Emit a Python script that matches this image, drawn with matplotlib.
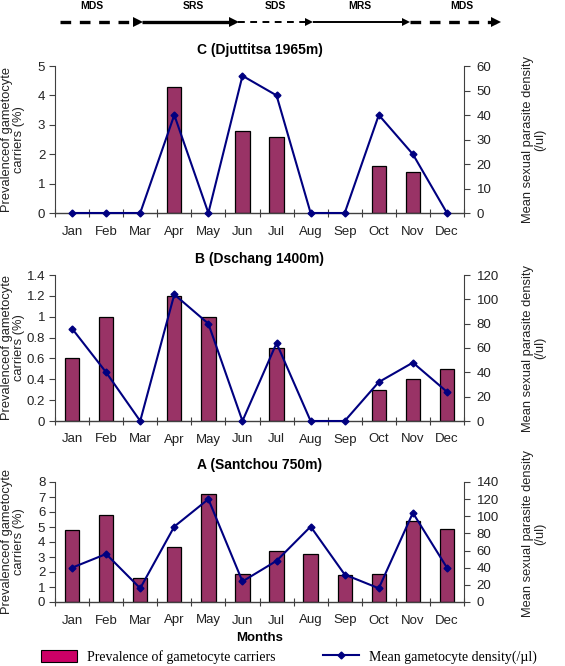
import numpy as np
import matplotlib
matplotlib.use('Agg')
import matplotlib.pyplot as plt
from matplotlib.lines import Line2D
from matplotlib.patches import Patch

plt.rcParams['font.family'] = ['Liberation Sans', 'DejaVu Sans']

months = ['Jan', 'Feb', 'Mar', 'Apr', 'May', 'Jun',
          'Jul', 'Aug', 'Sep', 'Oct', 'Nov', 'Dec']

# C (Djuttitsa 1965m)
prev_c = [0, 0, 0, 4.3, 0, 2.8, 2.6, 0, 0, 1.6, 1.4, 0]
dens_c = [0, 0, 0, 40, 0, 56, 48, 0, 0, 40, 24, 0]
# B (Dschang 1400m)
prev_b = [0.6, 1.0, 0, 1.2, 1.0, 0, 0.7, 0, 0, 0.3, 0.4, 0.5]
dens_b = [76, 40, 0, 104, 80, 0, 64, 0, 0, 32, 48, 24]
# A (Santchou 750m)
prev_a = [4.8, 5.8, 1.6, 3.7, 7.2, 1.9, 3.4, 3.2, 1.8, 1.9, 5.4, 4.9]
dens_a = [40, 56, 16, 88, 120, 24, 48, 88, 32, 16, 104, 40]

seasons = ['MDS', 'SRS', 'SDS', 'MRS', 'MDS']

BAR = '#993366'
LINE = '#000080'
AXC = '#404040'
TXT = '#222222'

W, H = 565, 666
fig = plt.figure(figsize=(W / 100, H / 100), dpi=100)

L = 55 / W
AW = (464 - 55) / W


def panel(rect, title, prev, dens, ymax, ystep, y2max, y2step, r_label_y=0.5):
    ax = fig.add_axes(rect)
    x = np.arange(len(months))
    prev = np.array(prev, dtype=float)
    keep = prev > 0
    ax.bar(x[keep], prev[keep], width=0.42, color=BAR,
           edgecolor='black', linewidth=0.9, zorder=2)
    ax.set_xlim(-0.5, 11.5)
    ax.set_ylim(0, ymax)
    yt = np.arange(0, ymax + ystep / 2, ystep)
    ax.set_yticks(yt)
    ax.set_yticklabels(['%g' % round(v, 1) for v in yt])
    ax.set_xticks(x)
    ax.set_xticklabels(months)
    ax.set_xticks(np.arange(-0.5, 12, 1), minor=True)
    ax.tick_params(axis='x', which='major', length=0, pad=9,
                   labelsize=9.5, labelcolor=TXT)
    ax.tick_params(axis='x', which='minor', direction='inout', length=6,
                   color=AXC, width=0.8)
    ax.tick_params(axis='y', direction='out', length=4, color=AXC,
                   labelsize=9.5, labelcolor=TXT, width=0.8, pad=3)
    for s in ['top', 'right']:
        ax.spines[s].set_visible(False)
    ax.spines['left'].set_color(AXC)
    ax.spines['bottom'].set_color(AXC)
    ax.spines['left'].set_linewidth(0.8)
    ax.spines['bottom'].set_linewidth(1.0)
    ax.set_ylabel('Prevalenceof gametocyte\ncarriers (%)', fontsize=9.3,
                  color=TXT, linespacing=1.0, va='center')
    ax.yaxis.set_label_coords((13 - 55) / (AW * W), 0.5)
    ax.set_title(title, fontsize=10, fontweight='bold', pad=9)

    ax2 = ax.twinx()
    ax2.plot(x, dens, color=LINE, lw=1.5, marker='D', markersize=3.5,
             zorder=3, clip_on=False)
    ax2.set_ylim(0, y2max)
    ax2.set_yticks(np.arange(0, y2max + 1, y2step))
    ax2.tick_params(axis='y', direction='out', length=4, color=AXC,
                    labelsize=9.5, labelcolor=TXT, width=0.8, pad=5)
    for s in ['top', 'left', 'bottom']:
        ax2.spines[s].set_visible(False)
    ax2.spines['right'].set_color(AXC)
    ax2.spines['right'].set_linewidth(0.8)
    ax2.set_ylabel('Mean sexual parasite density\n(/ul)', fontsize=9.3,
                   color=TXT, linespacing=1.0, va='center')
    ax2.yaxis.set_label_coords((534 - 55) / (AW * W), r_label_y)
    return ax


def fy(top, bottom):
    return [L, 1 - bottom / H, AW, (bottom - top) / H]


panel(fy(66, 213), 'C (Djuttitsa 1965m)', prev_c, dens_c, 5, 1, 60, 10)
panel(fy(275, 421), 'B (Dschang 1400m)', prev_b, dens_b, 1.4, 0.2, 120, 20)
axa = panel(fy(482, 602), 'A (Santchou 750m)', prev_a, dens_a, 8, 1, 140, 20,
            r_label_y=0.57)
axa.set_xlabel('Months', fontsize=9.5, fontweight='bold', labelpad=4)

# season arrows across the top, in pixel coordinates of an overlay
ov = fig.add_axes([0, 0, 1, 1], zorder=-1)
ov.set_xlim(0, W)
ov.set_ylim(H, 0)
ov.axis('off')
breaks = [60, 142, 238, 313, 410, 500]
styles = [(2.4, (0, (3.2, 2.6))), (2.4, '-'), (1.4, (0, (3.5, 2.8))),
          (1.4, '-'), (2.4, (0, (3.2, 2.6)))]
label_x = [92, 193, 275, 360, 462]
for i, name in enumerate(seasons):
    lw, ls = styles[i]
    x0, x1 = breaks[i], breaks[i + 1]
    ov.plot([x0, x1 - 4], [22, 22], color='black', lw=lw, linestyle=ls,
            solid_capstyle='butt', dash_capstyle='butt')
    ov.plot([x1 - 4], [22], marker='>', color='black',
            markersize=7 if lw > 2 else 6, markeredgewidth=0)
    ov.text(label_x[i], 6, name, ha='center', va='center', fontsize=7.5,
            fontweight='bold')

handles = [Patch(facecolor='#cc0066', edgecolor='black', linewidth=0.8),
           Line2D([], [], color=LINE, lw=1.5, marker='D', markersize=3.5)]
fig.legend(handles, ['Prevalence of gametocyte carriers',
                     'Mean gametocyte density(/\u00b5l)'],
           loc='center', bbox_to_anchor=(289 / W, 1 - 657 / H), ncol=2,
           frameon=False, handlelength=2.6, handleheight=1.0,
           columnspacing=3.4, handletextpad=0.7,
           prop={'family': ['Liberation Serif', 'DejaVu Serif'], 'size': 10})

fig.savefig('out.png', dpi=100)
